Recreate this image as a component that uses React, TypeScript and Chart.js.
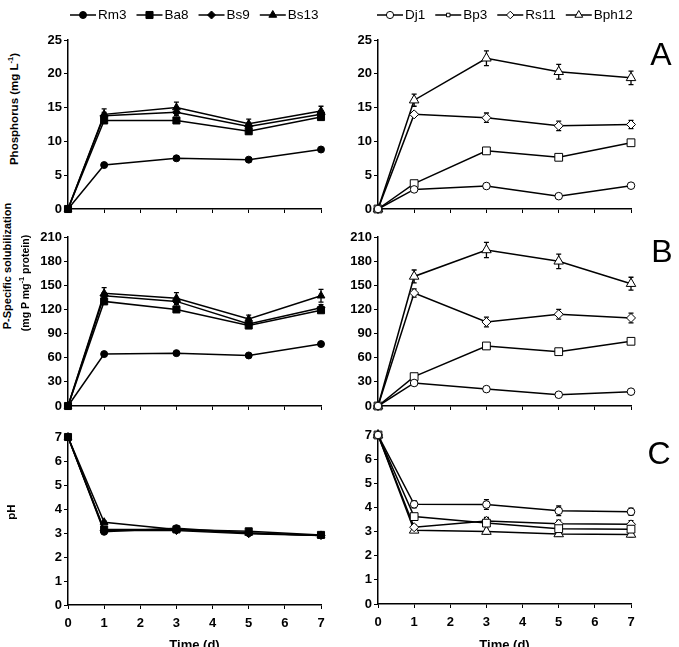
import React, { useEffect, useRef } from 'react';
import { Chart, registerables } from 'chart.js';

Chart.register(...registerables);

// ---------- DATA ----------
const days = [0, 1, 3, 5, 7];
const leftNames = ['Rm3', 'Ba8', 'Bs9', 'Bs13'];
const rightNames = ['Dj1', 'Bp3', 'Rs11', 'Bph12'];
const xTickLabels = ['0', '1', '2', '3', '4', '5', '6', '7'];

// Panel A: Phosphorus (mg L-1)
const phosRm3 = [0, 6.5, 7.5, 7.3, 8.8];
const phosBa8 = [0, 13.1, 13.1, 11.5, 13.6];
const phosBs9 = [0, 13.8, 14.3, 12.2, 14.0];
const phosBs13 = [0, 14.0, 15.0, 12.6, 14.5];
const phosDj1 = [0, 2.9, 3.4, 1.9, 3.45];
const phosBp3 = [0, 3.75, 8.6, 7.65, 9.8];
const phosRs11 = [0, 14.0, 13.5, 12.3, 12.5];
const phosBph12 = [0, 16.1, 22.3, 20.3, 19.4];
const phosErrRm3 = [0, 0.2, 0.2, 0.2, 0.2];
const phosErrBa8 = [0, 0.4, 0.4, 0.4, 0.4];
const phosErrBs9 = [0, 0.5, 0.5, 0.5, 0.5];
const phosErrBs13 = [0, 0.8, 0.8, 0.7, 0.7];
const phosErrDj1 = [0, 0.2, 0.2, 0.2, 0.2];
const phosErrBp3 = [0, 0.3, 0.3, 0.3, 0.3];
const phosErrRs11 = [0, 0.3, 0.7, 0.7, 0.6];
const phosErrBph12 = [0, 0.9, 1.1, 1.1, 1.0];

// Panel B: P-specific solubilization (mg P mg-1 protein)
const solRm3 = [0, 64.5, 65.7, 62.8, 77];
const solBa8 = [0, 130, 120, 100, 119];
const solBs9 = [0, 137, 130, 102, 122];
const solBs13 = [0, 140, 134, 108, 137];
const solDj1 = [0, 28.6, 21, 14, 17.8];
const solBp3 = [0, 36.5, 74.6, 67.5, 80.4];
const solRs11 = [0, 140.4, 104.4, 114, 109.4];
const solBph12 = [0, 161, 193.9, 179.8, 152];
const solErrRm3 = [0, 1, 1, 1, 1];
const solErrBa8 = [0, 3, 3, 3, 3];
const solErrBs9 = [0, 4, 4, 3, 4];
const solErrBs13 = [0, 7, 7, 5, 8];
const solErrDj1 = [0, 1, 1, 1, 1];
const solErrBp3 = [0, 2, 2, 2, 2];
const solErrRs11 = [0, 5, 6, 6, 6];
const solErrBph12 = [0, 8, 9.5, 9, 8];

// Panel C: pH
const phRm3 = [7, 3.05, 3.2, 3.0, 2.9];
const phBa8 = [7, 3.15, 3.15, 3.07, 2.92];
const phBs9 = [7, 3.1, 3.1, 2.97, 2.9];
const phBs13 = [7, 3.45, 3.15, 3.0, 2.9];
const phDj1 = [7, 4.13, 4.12, 3.86, 3.82];
const phBp3 = [7, 3.62, 3.35, 3.12, 3.1];
const phRs11 = [7, 3.18, 3.44, 3.32, 3.3];
const phBph12 = [7, 3.05, 3.0, 2.9, 2.88];
const phErrSmall = [0, 0.05, 0.05, 0.05, 0.05];
const phErrDj1 = [0, 0.15, 0.2, 0.2, 0.15];
const phErrBp3 = [0, 0.1, 0.1, 0.1, 0.1];
const phErrRs11 = [0, 0.1, 0.15, 0.15, 0.15];
const phErrBph12 = [0, 0.08, 0.1, 0.1, 0.1];

const phosTicks = { min: 0, max: 25, step: 5 };
const solTicks = { min: 0, max: 210, step: 30 };
const phTicks = { min: 0, max: 7, step: 1 };

// ---------- STYLE ----------
const FONT = '"Liberation Sans", Arial, Helvetica, sans-serif';
const leftMarkers = [
  { style: 'circle', r: 3.5, lr: 3.5 },
  { style: 'rect', r: 5, lr: 5 },
  { style: 'rectRot', r: 4, lr: 4 },
  { style: 'triangle', r: 4.5, lr: 4.5 },
];
const rightMarkers = [
  { style: 'circle', r: 3.8, lr: 3.6 },
  { style: 'rect', r: 5.5, lr: 2.5 },
  { style: 'rectRot', r: 4.5, lr: 3.8 },
  { style: 'triangle', r: 5.5, lr: 4.5 },
];

function drawMarker(ctx: CanvasRenderingContext2D, style: string, x: number, y: number, r: number, fill: string) {
  ctx.beginPath();
  if (style === 'circle') {
    ctx.arc(x, y, r, 0, Math.PI * 2);
  } else if (style === 'rect') {
    const s = r * Math.SQRT1_2;
    ctx.rect(x - s, y - s, 2 * s, 2 * s);
  } else if (style === 'rectRot') {
    ctx.moveTo(x - r, y);
    ctx.lineTo(x, y - r);
    ctx.lineTo(x + r, y);
    ctx.lineTo(x, y + r);
    ctx.closePath();
  } else {
    let a = 0;
    ctx.moveTo(x + Math.sin(a) * r, y - Math.cos(a) * r);
    a += (2 * Math.PI) / 3;
    ctx.lineTo(x + Math.sin(a) * r, y - Math.cos(a) * r);
    a += (2 * Math.PI) / 3;
    ctx.lineTo(x + Math.sin(a) * r, y - Math.cos(a) * r);
    ctx.closePath();
  }
  ctx.fillStyle = fill;
  ctx.fill();
  ctx.lineWidth = 1;
  ctx.strokeStyle = '#000';
  ctx.stroke();
}

const errorBarPlugin = {
  id: 'errorBars',
  beforeDatasetsDraw(chart: any) {
    const ctx = chart.ctx;
    const xs = chart.scales.x;
    const ys = chart.scales.y;
    ctx.save();
    ctx.strokeStyle = '#000';
    ctx.lineWidth = 1.3;
    chart.data.datasets.forEach((ds: any) => {
      if (!ds.errors) return;
      ds.data.forEach((pt: any, i: number) => {
        const e = ds.errors[i];
        if (!e) return;
        const x = xs.getPixelForValue(pt.x);
        const yTop = ys.getPixelForValue(pt.y + e);
        const yBot = ys.getPixelForValue(pt.y - e);
        ctx.beginPath();
        ctx.moveTo(x, yTop);
        ctx.lineTo(x, yBot);
        ctx.moveTo(x - 2.5, yTop);
        ctx.lineTo(x + 2.5, yTop);
        ctx.moveTo(x - 2.5, yBot);
        ctx.lineTo(x + 2.5, yBot);
        ctx.stroke();
      });
    });
    ctx.restore();
  },
};

const lineLegendPlugin = {
  id: 'lineLegend',
  afterDraw(chart: any) {
    const opts = chart.options.plugins.lineLegend;
    if (!opts || !opts.show) return;
    const ctx = chart.ctx;
    ctx.save();
    ctx.font = '13.5px ' + FONT;
    ctx.textBaseline = 'middle';
    ctx.textAlign = 'left';
    let x = opts.x;
    const y = opts.y;
    chart.data.datasets.forEach((ds: any) => {
      ctx.beginPath();
      ctx.strokeStyle = '#000';
      ctx.lineWidth = 1.5;
      ctx.moveTo(x, y);
      ctx.lineTo(x + 26, y);
      ctx.stroke();
      drawMarker(ctx, ds.pointStyle, x + 13, y, ds.legendRadius, ds.pointBackgroundColor);
      ctx.fillStyle = '#000';
      ctx.fillText(ds.label, x + 28, y + 0.5);
      x += 28 + ctx.measureText(ds.label).width + 10;
    });
    ctx.restore();
  },
};

type PanelDef = {
  key: string;
  area: [number, number, number, number]; // chart area left, top, right, bottom
  canvasTop: number;
  canvasBottom: number;
  names: string[];
  series: number[][];
  errors: number[][];
  markers: { style: string; r: number; lr: number }[];
  fill: string;
  ticks: { min: number; max: number; step: number };
  showXLabels: boolean;
  legendX?: number;
};

const panels: PanelDef[] = [
  {
    key: 'AL', area: [68, 40, 321, 209], canvasTop: 0, canvasBottom: 219,
    names: leftNames, series: [phosRm3, phosBa8, phosBs9, phosBs13],
    errors: [phosErrRm3, phosErrBa8, phosErrBs9, phosErrBs13],
    markers: leftMarkers, fill: '#000', ticks: phosTicks, showXLabels: false, legendX: 70,
  },
  {
    key: 'AR', area: [378, 40, 631, 209], canvasTop: 0, canvasBottom: 219,
    names: rightNames, series: [phosDj1, phosBp3, phosRs11, phosBph12],
    errors: [phosErrDj1, phosErrBp3, phosErrRs11, phosErrBph12],
    markers: rightMarkers, fill: '#fff', ticks: phosTicks, showXLabels: false, legendX: 377,
  },
  {
    key: 'BL', area: [68, 237, 321, 406], canvasTop: 222, canvasBottom: 416,
    names: leftNames, series: [solRm3, solBa8, solBs9, solBs13],
    errors: [solErrRm3, solErrBa8, solErrBs9, solErrBs13],
    markers: leftMarkers, fill: '#000', ticks: solTicks, showXLabels: false,
  },
  {
    key: 'BR', area: [378, 237, 631, 406], canvasTop: 222, canvasBottom: 416,
    names: rightNames, series: [solDj1, solBp3, solRs11, solBph12],
    errors: [solErrDj1, solErrBp3, solErrRs11, solErrBph12],
    markers: rightMarkers, fill: '#fff', ticks: solTicks, showXLabels: false,
  },
  {
    key: 'CL', area: [68, 437, 321, 605], canvasTop: 422, canvasBottom: 657,
    names: leftNames, series: [phRm3, phBa8, phBs9, phBs13],
    errors: [phErrSmall, phErrSmall, phErrSmall, phErrSmall],
    markers: leftMarkers, fill: '#000', ticks: phTicks, showXLabels: true,
  },
  {
    key: 'CR', area: [378, 435, 631, 604], canvasTop: 420, canvasBottom: 657,
    names: rightNames, series: [phDj1, phBp3, phRs11, phBph12],
    errors: [phErrDj1, phErrBp3, phErrRs11, phErrBph12],
    markers: rightMarkers, fill: '#fff', ticks: phTicks, showXLabels: true,
  },
];

const Y_AXIS_W = 45;
const PAD_RIGHT = 14;

function Panel({ def }: { def: PanelDef }) {
  const ref = useRef<HTMLCanvasElement | null>(null);
  const [ax1, ay1, ax2, ay2] = def.area;
  const left = ax1 - Y_AXIS_W;
  const width = ax2 - left + PAD_RIGHT;
  const height = def.canvasBottom - def.canvasTop;
  const padTop = ay1 - def.canvasTop;
  const xAxisH = def.canvasBottom - ay2;

  useEffect(() => {
    if (!ref.current) return;
    const datasets = def.names.map((name, i) => ({
      label: name,
      data: days.map((d, j) => ({ x: d, y: def.series[i][j] })),
      errors: def.errors[i],
      borderColor: '#000',
      borderWidth: 1.5,
      pointStyle: def.markers[i].style,
      pointRadius: def.markers[i].r,
      legendRadius: def.markers[i].lr,
      pointBackgroundColor: def.fill,
      pointBorderColor: '#000',
      pointBorderWidth: 1,
      tension: 0,
      fill: false,
      clip: false,
    }));
    const tickFont = { family: FONT, size: 13, weight: 'bold' as const };
    const chart = new Chart(ref.current, {
      type: 'line',
      data: { datasets: datasets as any },
      plugins: [errorBarPlugin, lineLegendPlugin],
      options: {
        animation: false,
        responsive: false,
        events: [],
        layout: { padding: { top: padTop, right: PAD_RIGHT, left: 0, bottom: 0 } },
        plugins: {
          legend: { display: false },
          tooltip: { enabled: false },
          lineLegend: {
            show: def.legendX !== undefined,
            x: (def.legendX ?? 0) - left,
            y: 15 - def.canvasTop,
          },
        } as any,
        scales: {
          x: {
            type: 'linear',
            min: 0,
            max: 7,
            afterFit: (s: any) => { s.height = xAxisH; },
            afterBuildTicks: (s: any) => {
              s.ticks = xTickLabels.map((l) => ({ value: Number(l) }));
            },
            ticks: {
              stepSize: 1,
              color: def.showXLabels ? '#000' : 'rgba(0,0,0,0)',
              font: tickFont,
              padding: 7,
              maxRotation: 0,
              autoSkip: false,
              callback: (v: any) => String(v),
            },
            grid: {
              display: true,
              drawOnChartArea: false,
              drawTicks: true,
              tickLength: 4,
              color: '#000',
              lineWidth: 1,
            },
            border: { display: true, color: '#000', width: 1.5 },
            title: {
              display: def.showXLabels,
              text: 'Time (d)',
              color: '#000',
              font: { family: FONT, size: 13, weight: 'bold' },
              padding: { top: 4, bottom: 4 },
            },
          },
          y: {
            type: 'linear',
            min: def.ticks.min,
            max: def.ticks.max,
            afterFit: (s: any) => { s.width = Y_AXIS_W; },
            ticks: {
              stepSize: def.ticks.step,
              color: '#000',
              font: tickFont,
              padding: 2,
              autoSkip: false,
            },
            grid: {
              display: true,
              drawOnChartArea: false,
              drawTicks: true,
              tickLength: 4,
              color: '#000',
              lineWidth: 1,
            },
            border: { display: true, color: '#000', width: 1.5 },
          },
        },
      } as any,
    });
    return () => chart.destroy();
  }, []);

  return (
    <canvas
      ref={ref}
      width={width}
      height={height}
      style={{ position: 'absolute', left, top: def.canvasTop, width, height }}
    />
  );
}

const rotated = (cx: number, cy: number, size = 11.5): React.CSSProperties => ({
  position: 'absolute',
  left: cx,
  top: cy,
  transform: 'translate(-50%, -50%) rotate(-90deg)',
  whiteSpace: 'nowrap',
  fontFamily: FONT,
  fontWeight: 'bold',
  fontSize: size,
  lineHeight: 1,
  color: '#000',
});

const supStyle: React.CSSProperties = { fontSize: 7.5, verticalAlign: 'top', position: 'relative', top: -2 };

const letterStyle = (cx: number, cy: number): React.CSSProperties => ({
  position: 'absolute',
  left: cx,
  top: cy,
  transform: 'translate(-50%, -50%)',
  fontFamily: FONT,
  fontSize: 32,
  lineHeight: 1,
  color: '#000',
});

export default function App() {
  return (
    <div
      style={{
        position: 'fixed',
        left: 0,
        top: 0,
        width: 679,
        height: 647,
        overflow: 'hidden',
        background: '#fff',
      }}
    >
      {panels.map((p) => (
        <Panel key={p.key} def={p} />
      ))}
      <div style={rotated(15, 109, 11.5)}>
        Phosphorus (mg L<span style={supStyle}>-1</span>)
      </div>
      <div style={rotated(7, 266, 11)}>P-Specific solubilization</div>
      <div style={rotated(25, 283, 10.5)}>
        (mg P mg<span style={supStyle}>-1</span> protein)
      </div>
      <div style={rotated(12, 512, 11.5)}>pH</div>
      <div style={letterStyle(661, 54)}>A</div>
      <div style={letterStyle(662, 251)}>B</div>
      <div style={letterStyle(659, 453)}>C</div>
    </div>
  );
}
